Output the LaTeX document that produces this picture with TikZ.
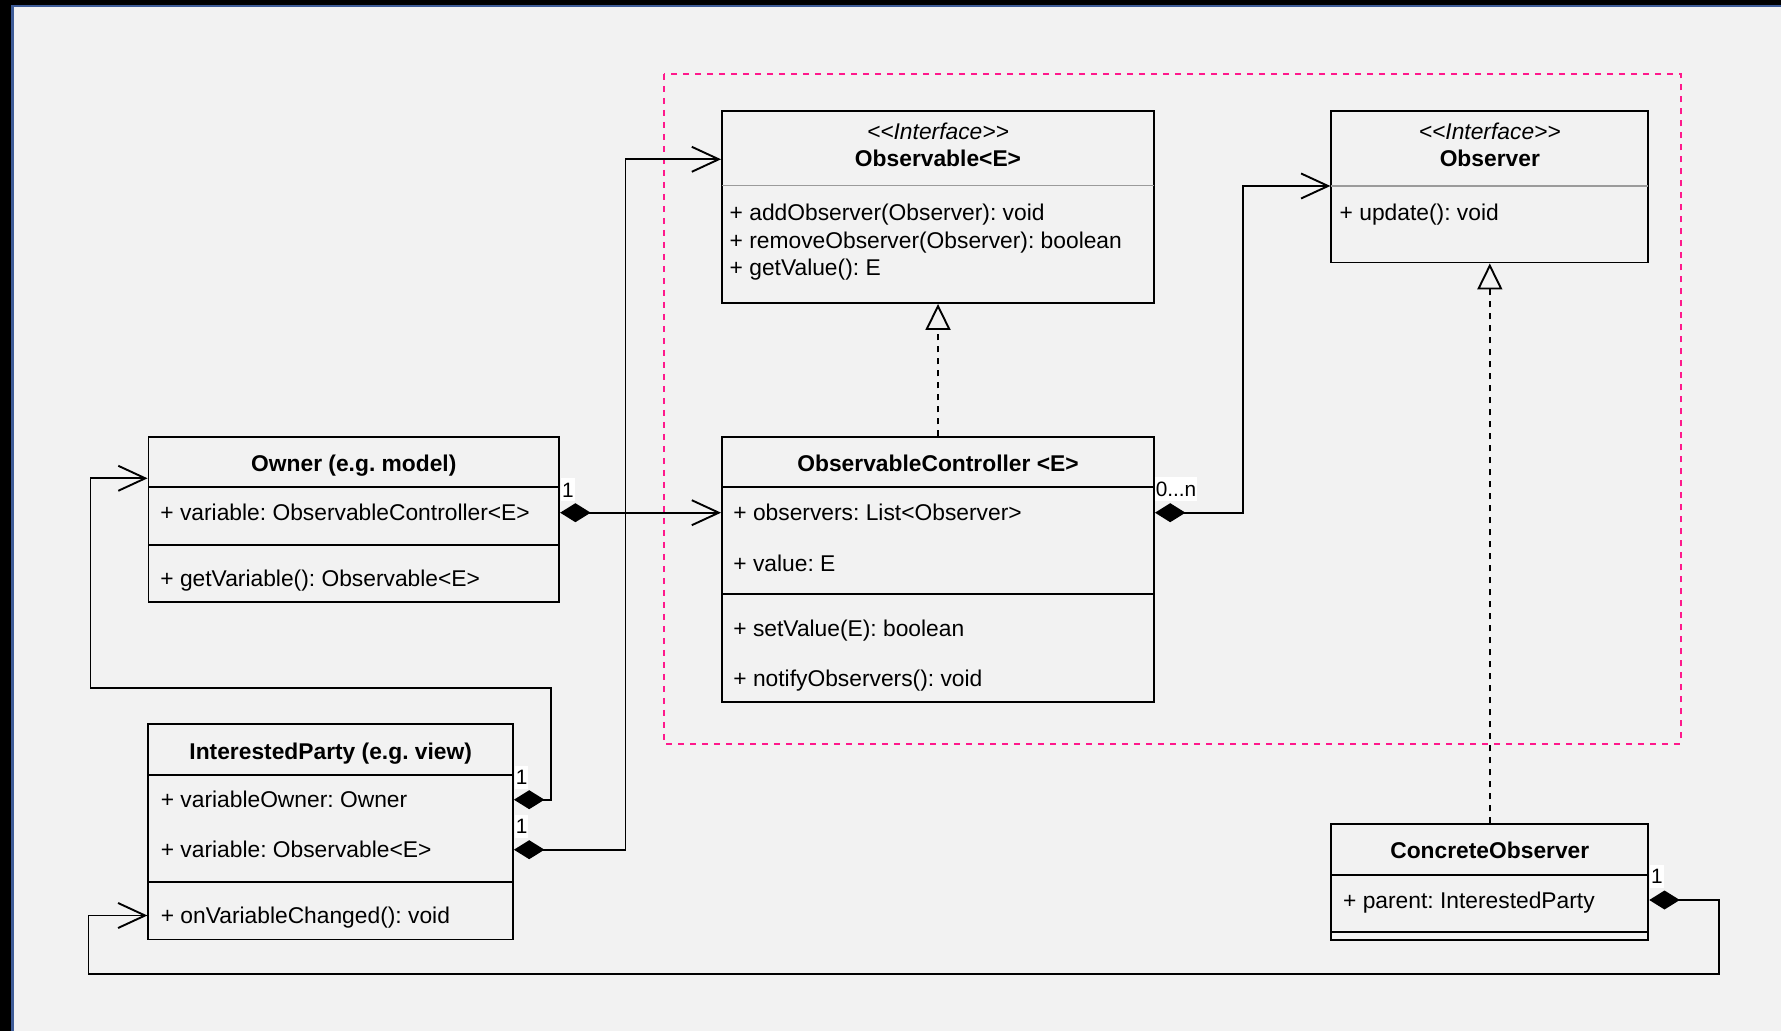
\documentclass[tikz,border=0pt]{standalone}
\usepackage{fontspec}
\setmainfont{Liberation Sans}
\usetikzlibrary{arrows.meta,fit}
\definecolor{bgc}{RGB}{242,242,242}
\definecolor{frameblue}{RGB}{62,92,152}
\definecolor{pinkc}{RGB}{255,25,140}
\definecolor{sepgray}{RGB}{155,155,155}
\frenchspacing
\begin{document}
\begin{tikzpicture}[x=0.5pt,y=-0.5pt,
  umlbox/.style={draw=black, fill=bgc, line width=0.95pt, inner sep=0pt},
  txt/.style={inner sep=0pt, text height=8.2pt, text depth=0pt, font=\fontsize{11.4pt}{13.5pt}\selectfont},
  attr/.style={txt, anchor=west},
  ctitle/.style={txt, font=\fontsize{11.4pt}{13.5pt}\selectfont\bfseries},
  stereo/.style={txt, font=\fontsize{11.4pt}{13.5pt}\selectfont\itshape},
  mult/.style={fill=white, inner xsep=0.4pt, inner ysep=2pt, text height=7.5pt, text depth=0pt, font=\fontsize{10.4pt}{12pt}\selectfont},
  conn/.style={draw=black, line width=0.95pt},
  comp/.style={conn, {Diamond[length=15.25pt,width=9.5pt]}-{Straight Barb[length=13.5pt,width=12.5pt]}},
  real/.style={conn, dash pattern=on 3pt off 3pt, -{Triangle[open,length=13pt,width=12.5pt,fill=bgc]}},
  sepline/.style={draw=black, line width=0.95pt},
  graysep/.style={draw=sepgray, line width=0.8pt},
]
\useasboundingbox (0,0) rectangle (1781,1031);
% screen background
\fill[black] (0,0) rectangle (1781,1031);
\fill[frameblue] (11.3,4.7) rectangle (1781,1031);
\fill[bgc] (14,7) rectangle (1781,1031);

% dashed grouping frame
\draw[pinkc, line width=1pt, dash pattern=on 3pt off 3pt] (664.4,73.8) rectangle (1680.5,744);

% Observable<E>
\node[umlbox, fit={(722,111.3) (1154,303)}] (observable) {};
\draw[graysep] (722,185.5) -- (1154,185.5);
\node[stereo] (observable-st) at (938,131.7) {<\kern0pt<Interface>\kern0pt>};
\node[ctitle] (observable-t) at (938,158.3) {Observable<E>};
\node[attr] (observable-m1) at (729.3,212.7) {+ addObserver(Observer): void};
\node[attr] (observable-m2) at (729.3,240) {+ removeObserver(Observer): boolean};
\node[attr] (observable-m3) at (729.3,267.7) {+ getValue(): E};

% Observer
\node[umlbox, fit={(1331.3,111.3) (1648.3,262.5)}] (observer) {};
\draw[graysep] (1331.3,186) -- (1648.3,186);
\node[stereo] (observer-st) at (1489.8,131.7) {<\kern0pt<Interface>\kern0pt>};
\node[ctitle] (observer-t) at (1489.8,158.3) {Observer};
\node[attr] (observer-m1) at (1339.3,212.7) {+ update(): void};

% Owner
\node[umlbox, fit={(148.5,437.3) (559.2,602.3)}] (owner) {};
\draw[sepline] (148.5,487.3) -- (559.2,487.3);
\draw[sepline] (148.5,545) -- (559.2,545);
\node[ctitle] (owner-t) at (353.8,463) {Owner (e.g. model)};
\node[attr] (owner-var) at (160,512.7) {+ variable: ObservableController<E>};
\node[attr] (owner-get) at (160,578.3) {+ getVariable(): Observable<E>};

% ObservableController <E>
\node[umlbox, fit={(722,437.3) (1154,702)}] (ctrl) {};
\draw[sepline] (722,487.3) -- (1154,487.3);
\draw[sepline] (722,594) -- (1154,594);
\node[ctitle] (ctrl-t) at (938,463) {ObservableController <E>};
\node[attr] (ctrl-obs) at (733,512.7) {+ observers: List<Observer>};
\node[attr] (ctrl-val) at (733,563.3) {+ value: E};
\node[attr] (ctrl-set) at (733,628.3) {+ setValue(E): boolean};
\node[attr] (ctrl-not) at (733,678.3) {+ notifyObservers(): void};

% InterestedParty
\node[umlbox, fit={(148.3,724.3) (513,939.5)}] (party) {};
\draw[sepline] (148.3,774.7) -- (513,774.7);
\draw[sepline] (148.3,882) -- (513,882);
\node[ctitle] (party-t) at (330.7,751.5) {InterestedParty (e.g. view)};
\node[attr] (party-own) at (160.4,799.7) {+ variableOwner: Owner};
\node[attr] (party-var) at (160.4,849.7) {+ variable: Observable<E>};
\node[attr] (party-cb) at (160.4,915.5) {+ onVariableChanged(): void};

% ConcreteObserver
\node[umlbox, fit={(1331.3,824.3) (1648.3,939.7)}] (concrete) {};
\draw[sepline] (1331.3,874.7) -- (1648.3,874.7);
\draw[sepline] (1331.3,932) -- (1648.3,932);
\node[ctitle] (concrete-t) at (1489.8,850.7) {ConcreteObserver};
\node[attr] (concrete-par) at (1342.7,900) {+ parent: InterestedParty};

% bend points
\coordinate (bB) at (625.5,159.3);
\coordinate (cA) at (550.7,688.3);
\coordinate (cB) at (90.5,478.3);
\coordinate (dA) at (1243,186);
\coordinate (gA) at (1719,973.7);
\coordinate (gB) at (88.5,973.7);

% connectors
\draw[comp] (owner.east |- owner-var) -- (ctrl.west |- owner-var);
\draw[comp] (party.east |- party-var) -- (bB |- party-var) -- (bB) -- (bB -| observable.west);
\draw[comp] (party.east |- party-own) -- (cA |- party-own) -- (cA) -- (cA -| cB) -- (cB) -- (cB -| owner.west);
\draw[comp] (ctrl.east |- ctrl-obs) -- (dA |- ctrl-obs) -- (dA) -- (dA -| observer.west);
\draw[comp] (concrete.east |- concrete-par) -- (gA |- concrete-par) -- (gA) -- (gB) -- (gB |- party-cb) -- (party.west |- party-cb);
\draw[real] (ctrl.north) -- (observable.south);
\draw[real] (concrete.north) -- (observer.south);

% multiplicities
\node[mult] (m-a) at (568,489.5) {1};
\node[mult] (m-c) at (521.7,777) {1};
\node[mult] (m-b) at (521.7,826) {1};
\node[mult] (m-d) at (1176,489) {0...n};
\node[mult] (m-g) at (1657,876) {1};
\end{tikzpicture}
\end{document}
